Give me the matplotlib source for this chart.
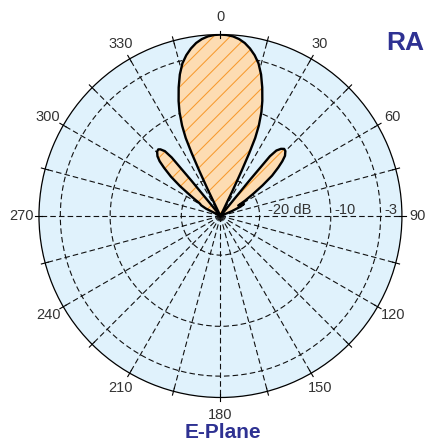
import numpy as np
import matplotlib
matplotlib.use('Agg')
import matplotlib.pyplot as plt

# ---- data ----
angles_deg = [-70, -65, -63, -61, -59.5, -58.5, -57, -55.5, -53.5, -51.5, -49.5, -48, -46.5,
              -44.5, -43, -42, -40.6, -39.8, -39.4, -38.8,
              -26.5, -25.6, -25.1, -24.6, -24, -23, -21.5, -20, -18, -16, -14, -12, -10, -8, -6, -4, -2,
              0,
              2, 4, 6, 8, 10, 12, 14, 16, 18, 20, 21.5, 23, 24, 24.6, 25.1, 25.6, 26.5,
              38.6, 39.2, 39.6, 40.5, 42, 43.5, 45, 47, 48.5, 50, 52, 54, 56, 58, 59.5, 61, 63, 65, 67, 69, 70]
gain_db = [-30, -25.5, -23.2, -22.4, -22.2, -22.0, -21.2, -20.2, -18.4, -16.6, -15.1, -14.0, -13.3,
           -12.8, -12.7, -12.9, -13.5, -14.8, -19.0, -25.5,
           -25.5, -21.5, -18.5, -15.8, -13.5, -11.7, -9.8, -8.3, -6.5, -4.8, -3.4, -2.4, -1.6, -0.95, -0.5, -0.2, -0.05,
           0.0,
           -0.05, -0.2, -0.5, -0.95, -1.6, -2.4, -3.4, -4.8, -6.5, -8.3, -9.8, -11.7, -13.5, -15.8, -18.5, -21.5, -25.5,
           -25.5, -19.0, -14.6, -13.4, -12.8, -12.5, -12.6, -13.1, -13.9, -14.9, -16.3, -18.2, -20.0, -21.4, -22.6,
           -22.2, -21.8, -22.4, -23.8, -25.5, -30]

ring_db = [-20, -10, -3]
ring_labels = ['-20 dB', '-10', '-3']
angle_ticks = list(range(0, 360, 30))
angle_labels = [str(a) for a in angle_ticks]
grid_angles = list(range(0, 360, 15))
title_text = 'RA'
plane_text = 'E-Plane'

R_MIN = -25.5

plt.rcParams['font.family'] = ['Liberation Sans', 'DejaVu Sans']
plt.rcParams['hatch.linewidth'] = 0.75

fig = plt.figure(figsize=(4.26, 4.43), dpi=100)
ax = fig.add_axes([0.0915, 0.1027, 0.852, 0.8194], projection='polar')
ax.set_theta_zero_location('N')
ax.set_theta_direction(-1)
ax.set_ylim(R_MIN, 0)
ax.set_facecolor('#E0F2FC')

th = np.deg2rad(angles_deg)
g = np.clip(gain_db, R_MIN, 0)
ax.fill(th, g, facecolor='#FDDCB2', edgecolor='#F79A2E', hatch='//', linewidth=0, zorder=2)
ax.plot(th, g, color='black', lw=1.7, zorder=3, solid_joinstyle='round')

ax.set_xticks(np.deg2rad(grid_angles))
ax.set_xticklabels([])
ax.set_yticks(ring_db)
ax.set_yticklabels([])
ax.grid(True, color='#111111', linestyle=(0, (5, 2.8)), linewidth=0.8)
ax.tick_params(axis='x', length=0)
ax.spines['polar'].set_linewidth(0.9)

# small tick marks crossing the outer circle every 15 degrees
for a in grid_angles:
    t = np.deg2rad(a)
    ax.plot([t, t], [-0.45, 0.55], color='black', lw=0.8, clip_on=False, zorder=4)

for a, lab in zip(angle_ticks, angle_labels):
    rr = 2.15 if a == 90 else 2.45
    ax.text(np.deg2rad(a), rr, lab, ha='center', va='center', fontsize=10.5, color='#333333')

offsets = [6.0, 2.4, 2.6]
for r, lab, dx in zip(ring_db, ring_labels, offsets):
    ax.annotate(lab, xy=(np.pi / 2, r), xytext=(dx, 1.4), textcoords='offset points',
                ha='left', va='baseline', fontsize=10.5, color='#333333', zorder=4)

fig.text(405 / 426, 1 - 43 / 443, title_text, fontsize=19, weight='bold', color='#2E3192',
         ha='center', va='center')
fig.text(223 / 426, 1 - 433 / 443, plane_text, fontsize=15, weight='bold', color='#2E3192',
         ha='center', va='center')

fig.savefig('out.png', dpi=100)
